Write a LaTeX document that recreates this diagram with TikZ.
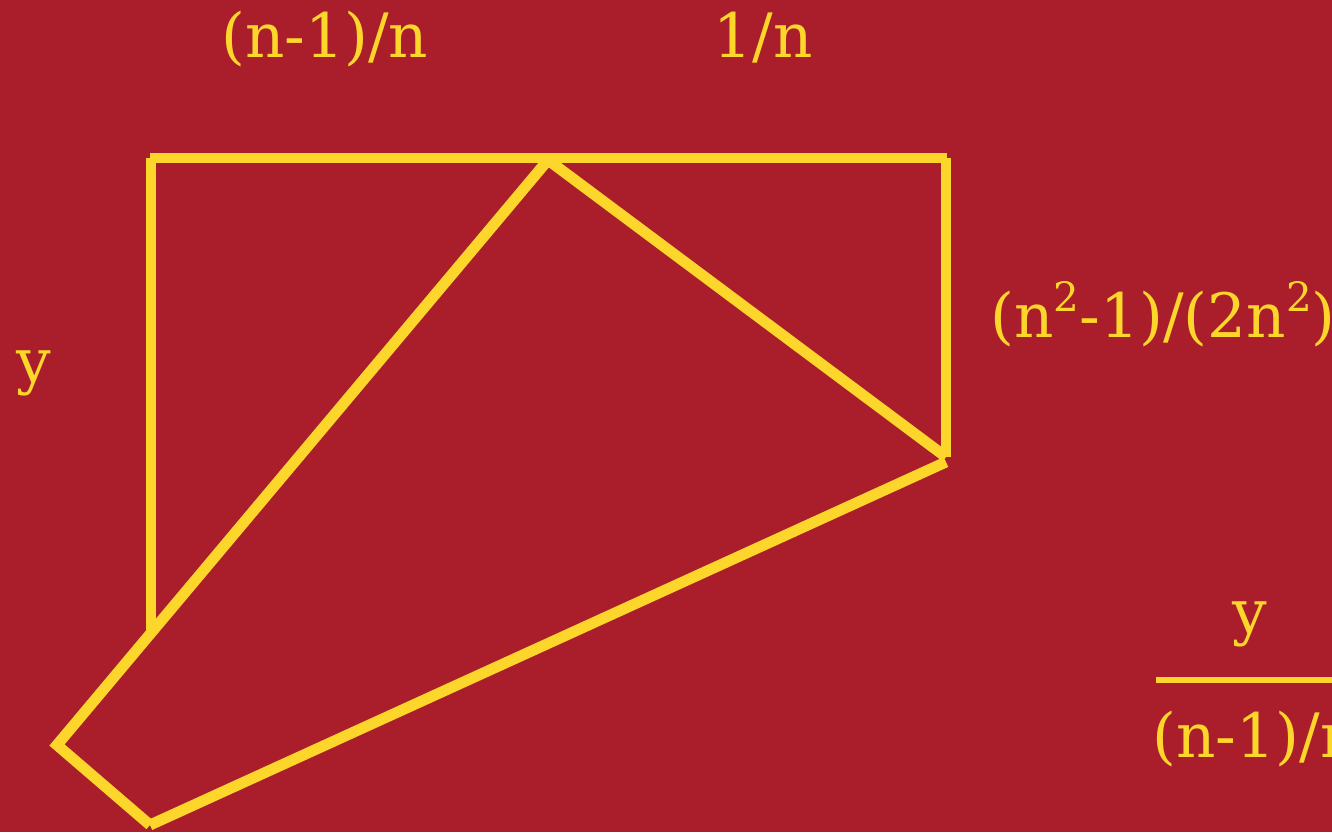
\documentclass[tikz,border=0pt]{standalone}
\usepackage{fontspec}
\setmainfont{DejaVu Serif}
\definecolor{bg}{RGB}{170,30,43}
\definecolor{yl}{RGB}{253,214,44}
\newcommand{\mysq}{\raisebox{0.42em}{\fontsize{11.5}{12}\selectfont 2}}
\begin{document}
\begin{tikzpicture}[x=0.01cm,y=-0.01cm,
  edge/.style={draw=yl,line width=3.1pt},
  lbl/.style={text=yl,font=\fontsize{17.4}{20}\selectfont,inner sep=0pt,anchor=base}]
\fill[bg] (0,0) rectangle (1332,832);
\useasboundingbox (0,0) rectangle (1332,832);
\coordinate (TL) at (150,158);
\coordinate (TR) at (947,158);
\coordinate (A) at (548,160);
\coordinate (LB) at (151,633);
\coordinate (RB) at (946,457);
\coordinate (RB2) at (946,462);
\coordinate (P) at (57,745);
\coordinate (Q) at (150,825);
\coordinate (L0) at (151,158);
\coordinate (R0) at (946,158);
\draw[edge] (TL) -- (TR);
\draw[edge] (L0) -- (LB);
\draw[edge] (R0) -- (RB);
\draw[edge,line join=miter] (A) -- (P) -- (Q);
\draw[edge] (Q) -- (RB2);
\draw[edge] (A) -- (RB);
\node[lbl] (t1) at (325,57) {(n-1)/n};
\node[lbl] (t2) at (763,57) {1/n};
\node[lbl,anchor=base west] (t3) at (990,337) {(n\mysq-1)/(2n\mysq)};
\node[lbl] (ty) at (34,382) {y};
\node[lbl] (fy) at (1250,633) {y};
\node[lbl,anchor=base west] (fd) at (1152,757) {(n-1)/n};
\coordinate (F1) at (1156,680);
\coordinate (F2) at (1340,680);
\draw[draw=yl,line width=1.7pt] (F1) -- (F2);
\end{tikzpicture}
\end{document}
